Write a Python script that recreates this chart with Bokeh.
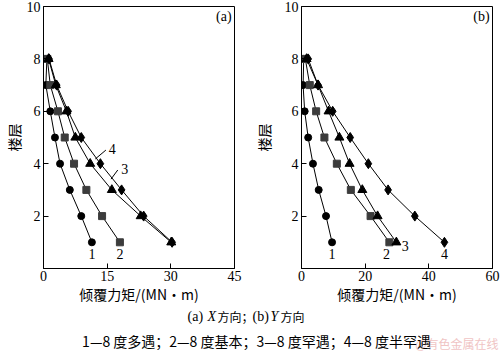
from bokeh.plotting import figure
from bokeh.layouts import column, row
from bokeh.models import Range1d, FixedTicker
from bokeh.core.properties import value
from bokeh.embed import file_html
from bokeh.resources import INLINE

floors = [1, 2, 3, 4, 5, 6, 7, 8]

# (a) X direction
a_s1 = [11.4, 8.9, 6.2, 3.9, 2.7, 1.6, 0.55, 0.8]
a_s2 = [18.0, 13.8, 10.1, 7.2, 5.0, 3.4, 1.6, 0.9]
a_s3 = [30.1, 22.9, 16.1, 11.0, 7.5, 5.4, 2.9, 1.2]
a_s4 = [30.3, 23.6, 18.4, 13.4, 8.9, 5.8, 3.1, 1.3]

# (b) Y direction
b_s1 = [9.6, 7.7, 5.4, 3.6, 2.1, 1.0, 0.5, 0.7]
b_s2 = [27.6, 21.7, 15.5, 11.1, 7.2, 4.6, 2.6, 1.2]
b_s3 = [29.8, 23.9, 19.1, 15.1, 11.9, 8.5, 5.2, 1.6]
b_s4 = [44.9, 35.6, 27.2, 21.0, 15.3, 9.8, 5.2, 2.1]

a_xticks = [0, 15, 30, 45]
b_xticks = [0, 20, 40, 60]
yticks = [2, 4, 6, 8, 10]

a_labels = ["1", "2"]
a_label_x = [11.4, 18.0]
a_label_y = [0.55, 0.55]
b_labels = ["1", "2", "3", "4"]
b_label_x = [9.6, 26.7, 32.6, 44.9]
b_label_y = [0.55, 0.55, 0.85, 0.55]

# leader annotations in panel (a)
lead4_x = [12.2, 14.7]
lead4_y = [4.18, 4.52]
lead3_x = [15.9, 17.5]
lead3_y = [3.41, 3.76]
lead_text = ["4", "3"]
lead_text_x = [15.4, 18.3]
lead_text_y = [4.55, 3.78]

xlabel = "倾覆力矩/(MN·m)"
ylabel = "楼层"
caption2 = "1—8 度多遇；2—8 度基本；3—8 度罕遇；4—8 度半罕遇"

SERIF = "Liberation Serif"
CJK = "Noto Sans CJK SC"


def panel(xmax, xticks, series, tag, width, bl, br, ylab_standoff):
    p = figure(width=width, height=307, x_range=Range1d(0, xmax), y_range=Range1d(0, 10),
               output_backend="svg", toolbar_location=None,
               min_border_left=bl, min_border_right=br, min_border_top=6, min_border_bottom=39)
    p.grid.visible = False
    p.outline_line_color = "black"
    p.outline_line_width = 1
    p.xaxis.ticker = FixedTicker(ticks=xticks)
    p.yaxis.ticker = FixedTicker(ticks=yticks)
    for ax in (p.xaxis[0], p.yaxis[0]):
        ax.major_tick_in = 5
        ax.major_tick_out = 0
        ax.minor_tick_line_color = None
        ax.axis_line_color = "black"
        ax.major_tick_line_color = "black"
        ax.major_label_text_font = SERIF
        ax.major_label_text_font_size = "14px"
        ax.major_label_text_color = "black"
        ax.axis_label_text_font = CJK
        ax.axis_label_text_font_size = "14px"
        ax.axis_label_text_font_style = "normal"
        ax.axis_label_text_color = "black"
    p.xaxis.major_label_standoff = 2
    p.yaxis.major_label_standoff = 3
    p.xaxis.axis_label_standoff = 0
    p.yaxis.axis_label_standoff = ylab_standoff
    p.xaxis.axis_label = xlabel
    p.yaxis.axis_label = ylabel
    s1, s2, s3, s4 = series
    for xs in (s1, s2, s3, s4):
        p.line(xs, floors, line_color="black", line_width=1)
    p.scatter(s1, floors, marker="circle", size=7, fill_color="black", line_color="black")
    p.scatter(s2, floors, marker="square", size=7, fill_color="#3c3c3c", line_color="#3c3c3c")
    p.scatter(s3, floors, marker="triangle", size=9, fill_color="black", line_color="black")
    p.scatter(s4, floors, marker="diamond", size=10, fill_color="black", line_color="black")
    p.text([xmax * 0.985], [9.6], text=[tag], text_font=value(SERIF), text_font_size="14px",
           text_align="right", text_baseline="middle", text_color="black")
    return p


p1 = panel(45, a_xticks, (a_s1, a_s2, a_s3, a_s4), "(a)", 250, 41, 16, 0)
p1.text(a_label_x, a_label_y, text=a_labels, text_font=value(SERIF), text_font_size="14px",
        text_align="center", text_baseline="middle", text_color="black")
p1.line(lead4_x, lead4_y, line_color="black", line_width=1)
p1.line(lead3_x, lead3_y, line_color="black", line_width=1)
p1.text(lead_text_x, lead_text_y, text=lead_text, text_font=value(SERIF), text_font_size="14px",
        text_align="left", text_baseline="middle", text_color="black")

p2 = panel(60, b_xticks, (b_s1, b_s2, b_s3, b_s4), "(b)", 250, 49, 8, 8)
p2.text(b_label_x, b_label_y, text=b_labels, text_font=value(SERIF), text_font_size="14px",
        text_align="center", text_baseline="middle", text_color="black")

# caption figure
p3 = figure(width=500, height=50, x_range=Range1d(0, 500), y_range=Range1d(50, 0),
            output_backend="svg", toolbar_location=None,
            min_border_left=0, min_border_right=0, min_border_top=0, min_border_bottom=0)
p3.axis.visible = False
p3.grid.visible = False
p3.outline_line_color = None

seg_text = ["(a)", "X", "方向；", "(b)", "Y", "方向"]
seg_x = [187, 207, 217, 252, 270, 280]
seg_font = [SERIF, SERIF, CJK, SERIF, SERIF, CJK]
seg_size = ["14px", "14px", "12px", "14px", "14px", "12px"]
seg_style = ["normal", "italic", "normal", "normal", "italic", "normal"]
for t, x, f, sz, st in zip(seg_text, seg_x, seg_font, seg_size, seg_style):
    p3.text([x], [9], text=[t], text_font=value(f), text_font_style=st, text_font_size=sz,
            text_align="left", text_baseline="middle", text_color="black")
p3.text([498], [36], text=["@有色金属在线"], text_font=value(CJK), text_font_size="12px",
        text_align="right", text_baseline="middle", text_color="#f0c4c4")
p3.text([256], [33], text=[caption2], text_font=value(CJK), text_font_size="14px",
        text_align="center", text_baseline="middle", text_color="black")

layout = column(row(p1, p2), p3)
open("out.html", "w").write(file_html(layout, INLINE))
